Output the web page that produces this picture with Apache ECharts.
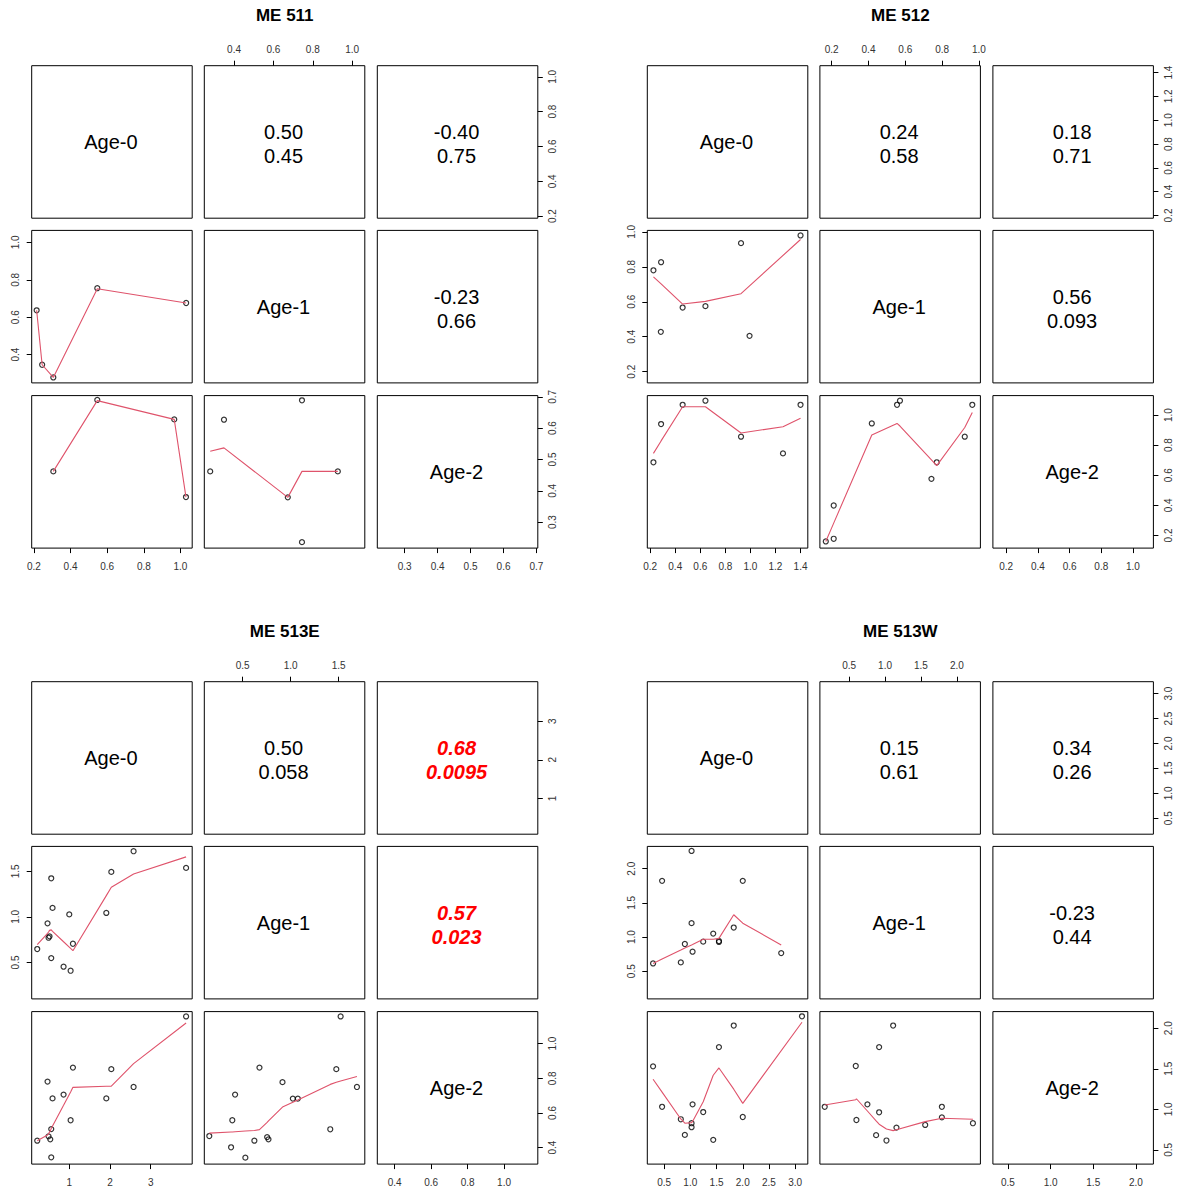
<!DOCTYPE html>
<html><head><meta charset="utf-8">
<script src="https://cdn.jsdelivr.net/npm/echarts@6/dist/echarts.min.js"></script>
<style>html,body{margin:0;padding:0;background:#fff}#c{width:1178px;height:1190px}</style>
</head><body><div id="c"></div>
<script>
// ================= DATA =================
const variables = ["Age-0", "Age-1", "Age-2"];
const siteTitles = ["ME 511", "ME 512", "ME 513E", "ME 513W"];

// ---- ME 511 ----
const me511_limits = [[0.188, 1.064], [0.249, 1.064], [0.217, 0.704]];
const me511_ticks_age0 = ["0.2", "0.4", "0.6", "0.8", "1.0"];
const me511_ticks_age1 = ["0.4", "0.6", "0.8", "1.0"];
const me511_ticks_age2 = ["0.3", "0.4", "0.5", "0.6", "0.7"];
const me511_age0_age1 = [[0.215,0.637],[0.245,0.346],[0.306,0.278],[0.546,0.755],[1.031,0.676]];
const me511_age0_age1_fit = [[0.215,0.637],[0.245,0.346],[0.306,0.278],[0.546,0.752],[1.031,0.676]];
const me511_age0_age2 = [[0.306,0.462],[0.546,0.690],[0.966,0.628],[1.030,0.380]];
const me511_age0_age2_fit = [[0.306,0.462],[0.546,0.688],[0.966,0.628],[1.030,0.380]];
const me511_age1_age2 = [[0.279,0.462],[0.349,0.627],[0.673,0.379],[0.745,0.689],[0.745,0.236],[0.927,0.462]];
const me511_age1_age2_fit = [[0.279,0.526],[0.349,0.537],[0.673,0.379],[0.745,0.462],[0.927,0.462]];
const me511_r = ["0.50", "-0.40", "-0.23"];
const me511_p = ["0.45", "0.75", "0.66"];
const me511_sig = [false, false, false];

// ---- ME 512 ----
const me512_limits = [[0.177, 1.458], [0.136, 1.008], [0.116, 1.129]];
const me512_ticks_age0 = ["0.2", "0.4", "0.6", "0.8", "1.0", "1.2", "1.4"];
const me512_ticks_age1 = ["0.2", "0.4", "0.6", "0.8", "1.0"];
const me512_ticks_age2 = ["0.2", "0.4", "0.6", "0.8", "1.0"];
const me512_age0_age1 = [[0.226,0.780],[0.287,0.826],[0.285,0.428],[0.459,0.567],[0.641,0.575],[0.925,0.935],[0.993,0.405],[1.400,0.979]];
const me512_age0_age1_fit = [[0.226,0.742],[0.285,0.704],[0.287,0.702],[0.459,0.587],[0.641,0.602],[0.925,0.646],[0.993,0.691],[1.400,0.956]];
const me512_age0_age2 = [[0.226,0.686],[0.287,0.940],[0.459,1.068],[0.641,1.095],[0.925,0.856],[1.260,0.745],[1.400,1.068]];
const me512_age0_age2_fit = [[0.226,0.745],[0.287,0.828],[0.459,1.055],[0.641,1.055],[0.925,0.881],[1.260,0.922],[1.400,0.978]];
const me512_age1_age2 = [[0.168,0.160],[0.211,0.178],[0.211,0.399],[0.418,0.944],[0.555,1.068],[0.571,1.095],[0.742,0.576],[0.771,0.686],[0.923,0.856],[0.964,1.068]];
const me512_age1_age2_fit = [[0.168,0.160],[0.211,0.282],[0.418,0.867],[0.555,0.944],[0.571,0.927],[0.742,0.702],[0.771,0.664],[0.923,0.917],[0.964,1.017]];
const me512_r = ["0.24", "0.18", "0.56"];
const me512_p = ["0.58", "0.71", "0.093"];
const me512_sig = [false, false, false];

// ---- ME 513E ----
const me513e_limits = [[0.077, 4.02], [0.10, 1.773], [0.305, 1.185]];
const me513e_ticks_age0 = ["1", "2", "3"];
const me513e_ticks_age1 = ["0.5", "1.0", "1.5"];
const me513e_ticks_age2 = ["0.4", "0.6", "0.8", "1.0"];
const me513e_age0_age1 = [[0.213,0.647],[0.466,0.929],[0.491,0.771],[0.515,0.786],[0.557,0.548],[0.557,1.423],[0.589,1.098],[0.860,0.453],[1.000,1.027],[1.033,0.409],[1.090,0.705],[1.910,1.043],[2.033,1.493],[2.580,1.720],[3.870,1.537]];
const me513e_age0_age1_fit = [[0.213,0.695],[0.466,0.819],[0.491,0.834],[0.515,0.852],[0.557,0.857],[0.589,0.841],[0.860,0.727],[1.000,0.669],[1.033,0.654],[1.090,0.629],[1.910,1.233],[2.033,1.324],[2.580,1.471],[3.870,1.658]];
const me513e_age0_age2 = [[0.213,0.440],[0.466,0.781],[0.589,0.684],[0.491,0.465],[0.533,0.448],[0.557,0.507],[0.557,0.344],[0.860,0.706],[1.033,0.558],[1.090,0.862],[1.910,0.684],[2.033,0.853],[2.580,0.750],[3.870,1.157]];
const me513e_age0_age2_fit = [[0.213,0.440],[0.466,0.473],[0.491,0.481],[0.533,0.496],[0.557,0.510],[0.589,0.525],[0.860,0.644],[1.033,0.721],[1.090,0.748],[1.910,0.754],[2.033,0.755],[2.580,0.885],[3.870,1.119]];
const me513e_age1_age2 = [[0.152,0.467],[0.379,0.402],[0.392,0.558],[0.421,0.706],[0.528,0.342],[0.622,0.440],[0.675,0.862],[0.755,0.461],[0.769,0.448],[0.915,0.778],[1.023,0.683],[1.075,0.683],[1.413,0.506],[1.476,0.853],[1.521,1.157],[1.691,0.750]];
const me513e_age1_age2_fit = [[0.152,0.484],[0.379,0.490],[0.392,0.490],[0.421,0.492],[0.528,0.496],[0.622,0.499],[0.675,0.504],[0.755,0.546],[0.769,0.555],[0.915,0.634],[1.023,0.662],[1.075,0.675],[1.413,0.765],[1.476,0.777],[1.521,0.785],[1.691,0.811]];
const me513e_r = ["0.50", "0.68", "0.57"];
const me513e_p = ["0.058", "0.0095", "0.023"];
const me513e_sig = [false, true, true];

// ---- ME 513W ----
const me513w_limits = [[0.18, 3.24], [0.094, 2.327], [0.324, 2.205]];
const me513w_ticks_age0 = ["0.5", "1.0", "1.5", "2.0", "2.5", "3.0"];
const me513w_ticks_age1 = ["0.5", "1.0", "1.5", "2.0"];
const me513w_ticks_age2 = ["0.5", "1.0", "1.5", "2.0"];
const me513w_age0_age1 = [[0.290,0.613],[0.462,1.823],[0.819,0.628],[0.896,0.898],[1.024,2.260],[1.024,1.203],[1.043,0.785],[1.246,0.932],[1.437,1.050],[1.546,0.942],[1.546,0.928],[1.828,1.139],[2.000,1.823],[2.733,0.765]];
const me513w_age0_age1_fit = [[0.290,0.613],[0.462,0.677],[0.819,0.810],[0.896,0.839],[1.024,0.883],[1.043,0.890],[1.246,0.967],[1.437,0.967],[1.546,0.980],[1.828,1.326],[2.000,1.203],[2.733,0.883]];
const me513w_age0_age2 = [[0.290,1.530],[0.462,1.031],[0.819,0.877],[0.896,0.684],[1.024,0.828],[1.024,0.779],[1.043,1.061],[1.246,0.966],[1.437,0.623],[1.546,1.767],[1.828,2.033],[2.000,0.905],[3.129,2.147]];
const me513w_age0_age2_fit = [[0.290,1.371],[0.462,1.212],[0.819,0.881],[0.896,0.828],[1.024,0.835],[1.043,0.850],[1.246,1.093],[1.437,1.420],[1.546,1.510],[1.828,1.248],[2.000,1.073],[3.129,2.074]];
const me513w_age1_age2 = [[0.161,1.031],[0.602,0.868],[0.593,1.534],[0.755,1.061],[0.876,0.681],[0.918,1.767],[0.918,0.963],[1.020,0.615],[1.113,2.033],[1.159,0.774],[1.559,0.807],[1.791,1.031],[1.791,0.901],[2.223,0.828]];
const me513w_age1_age2_fit = [[0.161,1.052],[0.593,1.117],[0.602,1.130],[0.755,0.979],[0.876,0.856],[0.918,0.816],[1.020,0.758],[1.113,0.737],[1.159,0.748],[1.559,0.848],[1.791,0.889],[2.223,0.877]];
const me513w_r = ["0.15", "0.34", "-0.23"];
const me513w_p = ["0.61", "0.26", "0.44"];
const me513w_sig = [false, false, false];

// ================= LAYOUT / STYLE =================
const PANEL_W = 160.5, PANEL_H = 152.5;
const COL_X = [31.7, 204.3, 377.3];
const ROW_Y = [65.7, 230.4, 395.6];
const SITE_OFF = [[0, 0], [615.6, 0], [0, 616], [615.6, 616]];
const FONT = "'Liberation Sans', Arial, Helvetica, sans-serif";
const SMOOTH_COLOR = '#DF536B';
const LABEL_COLOR = '#333';

const sites = [
  { lim: me511_limits, ticks: [me511_ticks_age0, me511_ticks_age1, me511_ticks_age2],
    lower: { '1-0': [me511_age0_age1, me511_age0_age1_fit], '2-0': [me511_age0_age2, me511_age0_age2_fit], '2-1': [me511_age1_age2, me511_age1_age2_fit] },
    r: me511_r, p: me511_p, sig: me511_sig },
  { lim: me512_limits, ticks: [me512_ticks_age0, me512_ticks_age1, me512_ticks_age2],
    lower: { '1-0': [me512_age0_age1, me512_age0_age1_fit], '2-0': [me512_age0_age2, me512_age0_age2_fit], '2-1': [me512_age1_age2, me512_age1_age2_fit] },
    r: me512_r, p: me512_p, sig: me512_sig },
  { lim: me513e_limits, ticks: [me513e_ticks_age0, me513e_ticks_age1, me513e_ticks_age2],
    lower: { '1-0': [me513e_age0_age1, me513e_age0_age1_fit], '2-0': [me513e_age0_age2, me513e_age0_age2_fit], '2-1': [me513e_age1_age2, me513e_age1_age2_fit] },
    r: me513e_r, p: me513e_p, sig: me513e_sig },
  { lim: me513w_limits, ticks: [me513w_ticks_age0, me513w_ticks_age1, me513w_ticks_age2],
    lower: { '1-0': [me513w_age0_age1, me513w_age0_age1_fit], '2-0': [me513w_age0_age2, me513w_age0_age2_fit], '2-1': [me513w_age1_age2, me513w_age1_age2_fit] },
    r: me513w_r, p: me513w_p, sig: me513w_sig }
];

const grid = [], xAxis = [], yAxis = [], series = [], graphic = [];
const upperIndex = { '0-1': 0, '0-2': 1, '1-2': 2 };

function axisCfg(gi, lim, ticks, show, position, isY) {
  const vals = ticks.map(Number);
  const dec = (ticks[0].split('.')[1] || '').length;
  return {
    type: 'value', gridIndex: gi, min: lim[0], max: lim[1], position: position,
    axisLine: { show: false, onZero: false },
    splitLine: { show: false },
    axisTick: { show: show, inside: false, length: 5, customValues: vals, lineStyle: { color: '#000', width: 1 } },
    axisLabel: {
      show: show, customValues: vals, color: LABEL_COLOR, fontSize: 10, fontFamily: FONT,
      rotate: isY ? 90 : 0,
      margin: isY ? (position === 'left' ? 11 : 10) : (position === 'top' ? 11 : 13),
      formatter: v => Number(v).toFixed(dec)
    }
  };
}

sites.forEach((s, si) => {
  const [ox, oy] = SITE_OFF[si];
  // title
  graphic.push({ type: 'text', x: ox + COL_X[0] + (COL_X[2] + PANEL_W - COL_X[0]) / 2, y: oy + 15,
    style: { text: siteTitles[si], font: 'bold 17px ' + FONT, fill: '#000', align: 'center', verticalAlign: 'middle' } });
  for (let i = 0; i < 3; i++) {
    for (let j = 0; j < 3; j++) {
      const gi = grid.length;
      const left = ox + COL_X[j], top = oy + ROW_Y[i];
      grid.push({ left: left, top: top, width: PANEL_W, height: PANEL_H, show: true,
        borderColor: '#000', borderWidth: 1, backgroundColor: 'transparent' });
      let xShow = false, xPos = 'bottom';
      if (i === 2 && j !== 1) { xShow = true; xPos = 'bottom'; }
      if (i === 0 && j === 1) { xShow = true; xPos = 'top'; }
      let yShow = false, yPos = 'left';
      if (j === 0 && i === 1) { yShow = true; yPos = 'left'; }
      if (j === 2 && i !== 1) { yShow = true; yPos = 'right'; }
      xAxis.push(axisCfg(gi, s.lim[j], s.ticks[j], xShow, xPos, false));
      yAxis.push(axisCfg(gi, s.lim[i], s.ticks[i], yShow, yPos, true));
      const cx = left + PANEL_W / 2, cy = top + PANEL_H / 2;
      if (i === j) {
        graphic.push({ type: 'text', x: cx - 1, y: cy,
          style: { text: variables[i], font: '20px ' + FONT, fill: '#000', align: 'center', verticalAlign: 'middle' } });
      } else if (i < j) {
        const k = upperIndex[i + '-' + j];
        const sig = s.sig[k];
        graphic.push({ type: 'text', x: cx - 1, y: cy + 2,
          style: { text: s.r[k] + '\n' + s.p[k], font: (sig ? 'italic bold ' : '') + '20px ' + FONT,
            fill: sig ? '#FF0000' : '#000', align: 'center', verticalAlign: 'middle', lineHeight: 24 } });
      } else {
        const pair = s.lower[i + '-' + j];
        series.push({ type: 'scatter', xAxisIndex: gi, yAxisIndex: gi, data: pair[0], symbol: 'circle', symbolSize: 5,
          itemStyle: { color: 'rgba(255,255,255,0)', borderColor: '#000', borderWidth: 1.2 }, silent: true, z: 2 });
        series.push({ type: 'line', xAxisIndex: gi, yAxisIndex: gi, data: pair[1], showSymbol: false, symbol: 'none',
          lineStyle: { color: SMOOTH_COLOR, width: 1.1 }, silent: true, z: 3 });
      }
    }
  }
});

const chart = echarts.init(document.getElementById('c'), null, { renderer: 'svg', width: 1178, height: 1190 });
chart.setOption({ animation: false, backgroundColor: '#fff', grid, xAxis, yAxis, series, graphic });
</script>
</body></html>
